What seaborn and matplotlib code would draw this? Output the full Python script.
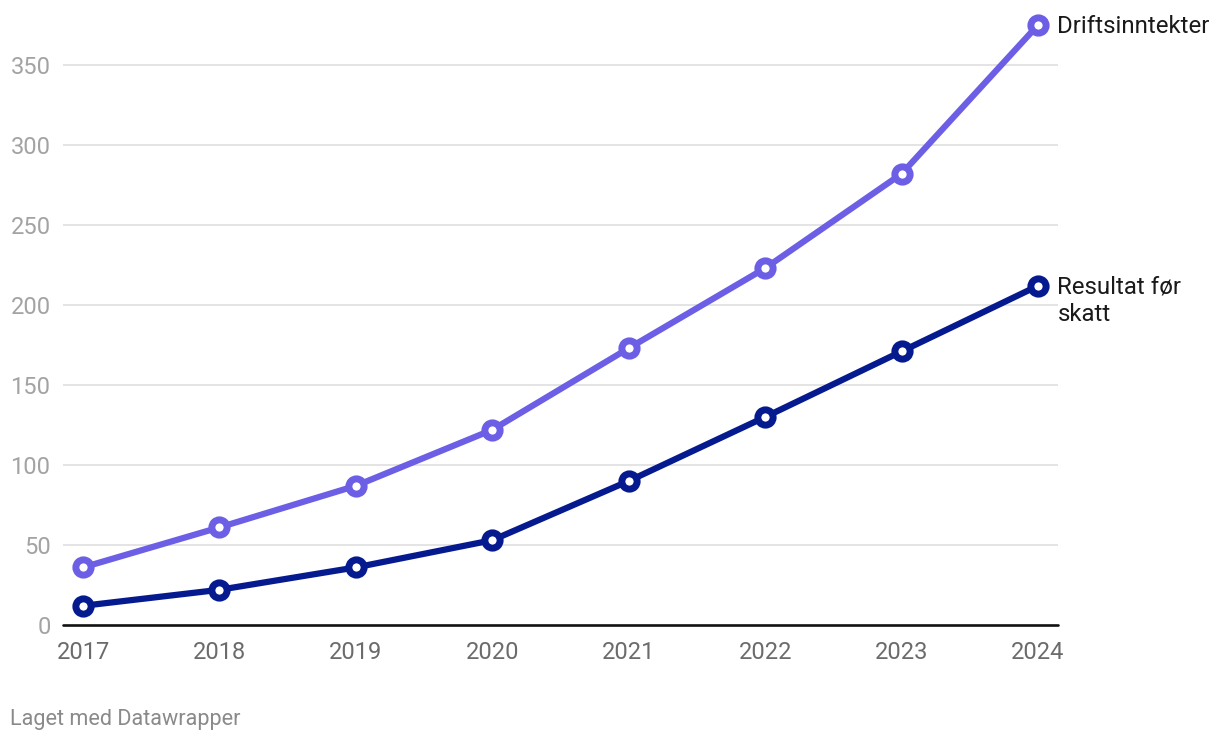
import pandas as pd
import matplotlib.pyplot as plt
import seaborn as sns

# Values
years = [2017, 2018, 2019, 2020, 2021, 2022, 2023, 2024]
driftsinntekter = [36, 61, 87, 122, 173, 223, 282, 375]
resultat_for_skatt = [12, 22, 36, 53, 90, 130, 171, 212]
series_names = ["Driftsinntekter", "Resultat før\nskatt"]
colors = ["#6c5fe6", "#061a8f"]
y_ticks = [0, 50, 100, 150, 200, 250, 300, 350]

df = pd.DataFrame({
    "year": years * 2,
    "value": driftsinntekter + resultat_for_skatt,
    "series": [series_names[0]] * len(years) + [series_names[1]] * len(years),
})

sns.set_style("white")
plt.rcParams["font.family"] = ["Roboto", "DejaVu Sans"]

fig = plt.figure(figsize=(12.2, 7.42), dpi=100)
ax = fig.add_axes([63 / 1220, 1 - 625 / 742, (1058 - 63) / 1220, (625 - 25) / 742])

for name, color in zip(series_names, colors):
    sub = df[df["series"] == name]
    sns.lineplot(data=sub, x="year", y="value", ax=ax, color=color, linewidth=4.5,
                 marker="o", markersize=11, markeredgewidth=5,
                 markerfacecolor="white", markeredgecolor=color,
                 clip_on=False, zorder=3, legend=False)
    last = sub.iloc[-1]
    ax.annotate(name, (last["year"], last["value"]), xytext=(14, 7.5 if "\n" in name else -1),
                textcoords="offset points", va="top" if "\n" in name else "center",
                ha="left", fontsize=17.3, color="#1a1a1a", annotation_clip=False,
                linespacing=1.25)

ax.set_xlim(2017 - 0.1466, 2024 + 0.1466)
ax.set_ylim(0, 375)
ax.set_yticks(y_ticks)
ax.set_xticks(years)
ax.set_xticklabels([str(y) for y in years])
ax.set_xlabel("")
ax.set_ylabel("")

for t in y_ticks[1:]:
    ax.axhline(t, color="#e2e2e2", linewidth=1.3, zorder=1)
ax.axhline(0, color="#111111", linewidth=1.9, zorder=2, clip_on=False)

for s in ax.spines.values():
    s.set_visible(False)
ax.tick_params(axis="y", length=0, pad=9, labelsize=17, labelcolor="#a3a3a3")
ax.tick_params(axis="x", length=0, pad=11.5, labelsize=17, labelcolor="#6b6b6b")

fig.text(10 / 1220, 1 - 720 / 742, "Laget med Datawrapper", fontsize=15.6,
         color="#8a8a8a", va="center", ha="left")

fig.savefig("out.png", dpi=100)
